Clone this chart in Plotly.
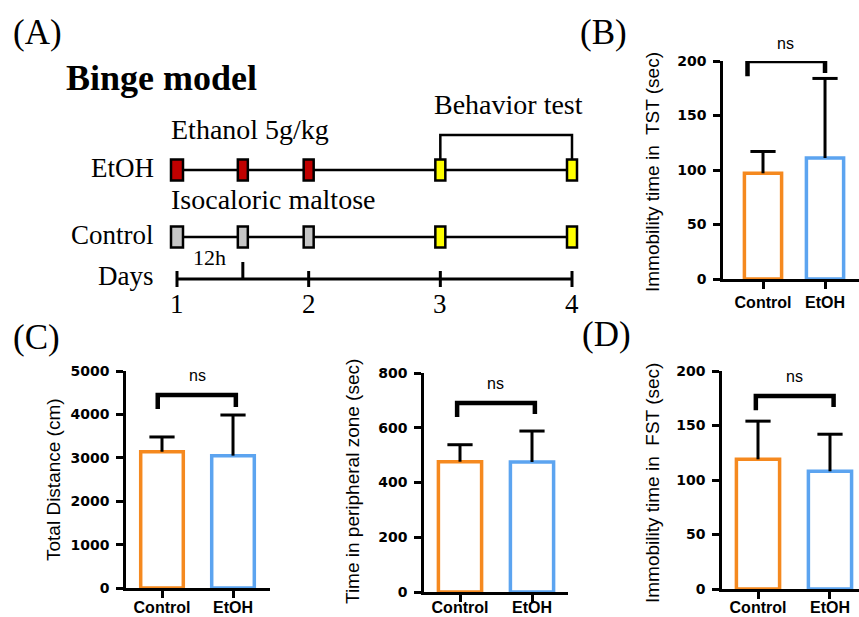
import plotly.graph_objects as go

W, H = 859, 617

# ---------------- data ----------------
categories = ["Control", "EtOH"]

tst_mean = [97, 111]
tst_err = [20, 73]

dist_mean = [3140, 3050]
dist_err = [340, 936]

periph_mean = [476, 475]
periph_err = [62, 113]

fst_mean = [119, 108]
fst_err = [35, 34]

# significance brackets (left leg, top, right leg)
tst_bracket = [186, 200, 189]
dist_bracket = [4124, 4447, 4170]
periph_bracket = [639, 690, 650]
fst_bracket = [164, 177, 167]

# schedule (days)
dose_days = [1, 1.5, 2]
test_days = [3, 4]
day_ticks = [1, 2, 3, 4]
half_day_tick = 1.5
day_labels = ["1", "2", "3", "4"]

ORANGE = "#F5891F"
BLUE = "#5CA4F0"
RED = "#C00000"
GRAY = "#C6C6C6"
YELLOW = "#FFFF00"

SANS = "Liberation Sans"
SERIF = "Liberation Serif"


def px(x):
    return x / W


def py(y):
    return 1 - y / H


fig = go.Figure()
annotations = []
shapes = []

# ---------------- bar panels ----------------
panels = [
    dict(ax="", mean=tst_mean, err=tst_err, br=tst_bracket, brx=(-0.25, 1.0),
         xdom=(723, 859), ydom=(279, 61), yr=200, dt=50, xr=(-0.645, 1.548),
         title="Immobility time in  TST (sec)", tpos=(652, 172), ns=(0.36, 216), lstand=0),
    dict(ax="2", mean=dist_mean, err=dist_err, br=dist_bracket, brx=(-0.06, 1.04),
         xdom=(126, 270), ydom=(588, 371), yr=5000, dt=1000, xr=(-0.507, 1.521),
         title="Total Distance (cm)", tpos=(53, 480), ns=(0.5, 4885), lstand=-4),
    dict(ax="3", mean=periph_mean, err=periph_err, br=periph_bracket, brx=(-0.04, 1.04),
         xdom=(424, 568), ydom=(592, 373), yr=800, dt=200, xr=(-0.5, 1.5),
         title="Time in peripheral zone (sec)", tpos=(352, 482), ns=(0.49, 763), lstand=-8),
    dict(ax="4", mean=fst_mean, err=fst_err, br=fst_bracket, brx=(-0.03, 1.05),
         xdom=(722, 859), ydom=(589, 371), yr=200, dt=50, xr=(-0.5, 1.403),
         title="Immobility time in  FST (sec)", tpos=(652, 483), ns=(0.51, 195), lstand=-5),
]

xpos = list(range(len(categories)))
layout_axes = {}
for p in panels:
    xa = "x" + p["ax"]
    ya = "y" + p["ax"]
    fig.add_trace(go.Bar(
        x=xpos, y=p["mean"], width=0.6, xaxis=xa, yaxis=ya, showlegend=False,
        marker=dict(color="white", line=dict(color=[ORANGE, BLUE], width=3.5)),
    ))
    sx, sy = [], []
    tops = []
    for xi, m, e in zip(xpos, p["mean"], p["err"]):
        sx += [xi, xi, None]
        sy += [m, m + e, None]
        tops.append(m + e)
    fig.add_trace(go.Scatter(x=sx, y=sy, mode="lines", xaxis=xa, yaxis=ya,
                             line=dict(color="black", width=3), showlegend=False,
                             cliponaxis=False, hoverinfo="skip"))
    fig.add_trace(go.Scatter(x=xpos, y=tops, mode="markers", xaxis=xa, yaxis=ya,
                             marker=dict(symbol="line-ew", size=18, color="black",
                                         line=dict(color="black", width=3)),
                             showlegend=False, cliponaxis=False, hoverinfo="skip"))
    bl, bt, br = p["br"]
    x0, x1 = p["brx"]
    fig.add_trace(go.Scatter(x=[x0, x0, x1, x1], y=[bl, bt, bt, br], mode="lines",
                             xaxis=xa, yaxis=ya, line=dict(color="black", width=4.5),
                             showlegend=False, cliponaxis=False, hoverinfo="skip"))
    annotations.append(dict(x=p["ns"][0], y=p["ns"][1] / p["yr"], xref=xa,
                            yref=ya + " domain", text="ns",
                            showarrow=False, xanchor="center", yanchor="middle",
                            font=dict(family=SANS, size=16, color="black")))
    annotations.append(dict(x=px(p["tpos"][0]), y=py(p["tpos"][1]), xref="paper", yref="paper",
                            text=p["title"], textangle=-90, showarrow=False,
                            xanchor="center", yanchor="middle",
                            font=dict(family=SANS, size=19, color="black")))
    common = dict(showline=True, linecolor="black", linewidth=2.5, ticks="outside",
                  ticklen=7, tickwidth=2.5, tickcolor="black", showgrid=False,
                  zeroline=False, fixedrange=True, automargin=False)
    layout_axes["xaxis" + p["ax"]] = dict(
        domain=[px(p["xdom"][0]), px(p["xdom"][1])], range=list(p["xr"]),
        anchor=ya, tickvals=xpos, ticktext=categories, ticklabelstandoff=p["lstand"],
        tickfont=dict(family=SANS, size=16, color="black", weight="bold"), **common)
    layout_axes["yaxis" + p["ax"]] = dict(
        domain=[py(p["ydom"][0]), py(p["ydom"][1])], range=[0, p["yr"]],
        anchor=xa, tickvals=list(range(0, p["yr"] + 1, p["dt"])),
        ticklabelstandoff=4,
        tickfont=dict(family="DejaVu Sans", size=14, color="black", weight="bold"), **common)

# ---------------- schedule diagram (A) ----------------
day_px = (572 - 177) / 3.0
x5_range = [1 - 177 / day_px, 1 + (W - 177) / day_px]
layout_axes["xaxis5"] = dict(domain=[0, 1], range=x5_range, visible=False, fixedrange=True,
                             anchor="y5", automargin=False)
layout_axes["yaxis5"] = dict(domain=[0, 1], range=[H, 0], visible=False, fixedrange=True,
                             anchor="x5", automargin=False)

ROW_ETOH, ROW_CTRL, ROW_DAYS = 170, 237, 279
all_days = dose_days + test_days

for row in (ROW_ETOH, ROW_CTRL):
    fig.add_trace(go.Scatter(x=[all_days[0], all_days[-1]], y=[row, row], mode="lines",
                             xaxis="x5", yaxis="y5", line=dict(color="black", width=2.5),
                             showlegend=False, hoverinfo="skip"))
# days axis
fig.add_trace(go.Scatter(x=[day_ticks[0], day_ticks[-1]], y=[ROW_DAYS, ROW_DAYS], mode="lines",
                         xaxis="x5", yaxis="y5", line=dict(color="black", width=3),
                         showlegend=False, hoverinfo="skip"))
tx, ty = [], []
for d in day_ticks:
    tx += [d, d, None]
    ty += [ROW_DAYS - 8, ROW_DAYS + 8, None]
tx += [half_day_tick, half_day_tick, None]
ty += [ROW_DAYS - 17, ROW_DAYS, None]
fig.add_trace(go.Scatter(x=tx, y=ty, mode="lines", xaxis="x5", yaxis="y5",
                         line=dict(color="black", width=3), showlegend=False, hoverinfo="skip"))
# behavior test bracket
fig.add_trace(go.Scatter(x=[test_days[0], test_days[0], test_days[1], test_days[1]],
                         y=[ROW_ETOH - 10, 135, 135, ROW_ETOH - 10], mode="lines",
                         xaxis="x5", yaxis="y5", line=dict(color="black", width=2.5),
                         showlegend=False, hoverinfo="skip"))

def box(d, row, color, hw):
    shapes.append(dict(type="rect", xref="x5", yref="y5",
                       x0=d - hw, x1=d + hw, y0=row - 10.5, y1=row + 10.5,
                       fillcolor=color, line=dict(color="black", width=2.5), layer="above"))

for i, d in enumerate(dose_days):
    hw = (6 if i == 0 else 5) / day_px
    box(d, ROW_ETOH, RED, hw)
    box(d, ROW_CTRL, GRAY, hw)
for d in test_days:
    box(d, ROW_ETOH, YELLOW, 5 / day_px)
    box(d, ROW_CTRL, YELLOW, 5 / day_px)

def txt(text, x, y, size, xanchor="center", bold=False, family=SERIF):
    annotations.append(dict(x=px(x), y=py(y), xref="paper", yref="paper", text=text,
                            showarrow=False, xanchor=xanchor, yanchor="middle",
                            font=dict(family=family, size=size, color="black",
                                      weight="bold" if bold else "normal")))

txt("(A)", 37, 32, 35)
txt("(B)", 603, 32, 35)
txt("(C)", 36, 337, 35)
txt("(D)", 606, 334, 35)
txt("Binge model", 64, 78, 36, xanchor="left", bold=True)
txt("Behavior test", 432, 104, 28, xanchor="left")
txt("Ethanol 5g/kg", 169, 130, 28, xanchor="left")
txt("EtOH", 156, 168, 27, xanchor="right")
txt("Isocaloric maltose", 169, 199, 28, xanchor="left")
txt("Control", 156, 235, 27, xanchor="right")
txt("Days", 156, 276, 27, xanchor="right")
for d, lab in zip(day_ticks, day_labels):
    annotations.append(dict(x=d, y=304, xref="x5", yref="y5", text=lab, showarrow=False,
                            xanchor="center", yanchor="middle",
                            font=dict(family=SERIF, size=27, color="black")))
annotations.append(dict(x=(day_ticks[0] + half_day_tick) / 2, y=257, xref="x5", yref="y5",
                        text="12h", showarrow=False, xanchor="center", yanchor="middle",
                        font=dict(family=SERIF, size=22, color="black")))

fig.update_layout(
    width=W, height=H, margin=dict(l=0, r=0, t=0, b=0, pad=0, autoexpand=False),
    paper_bgcolor="white", plot_bgcolor="rgba(0,0,0,0)",
    showlegend=False, annotations=annotations, shapes=shapes,
    **layout_axes,
)

fig.write_html("out.html", config={"displayModeBar": False},
               post_script="document.body.style.margin='0';")
